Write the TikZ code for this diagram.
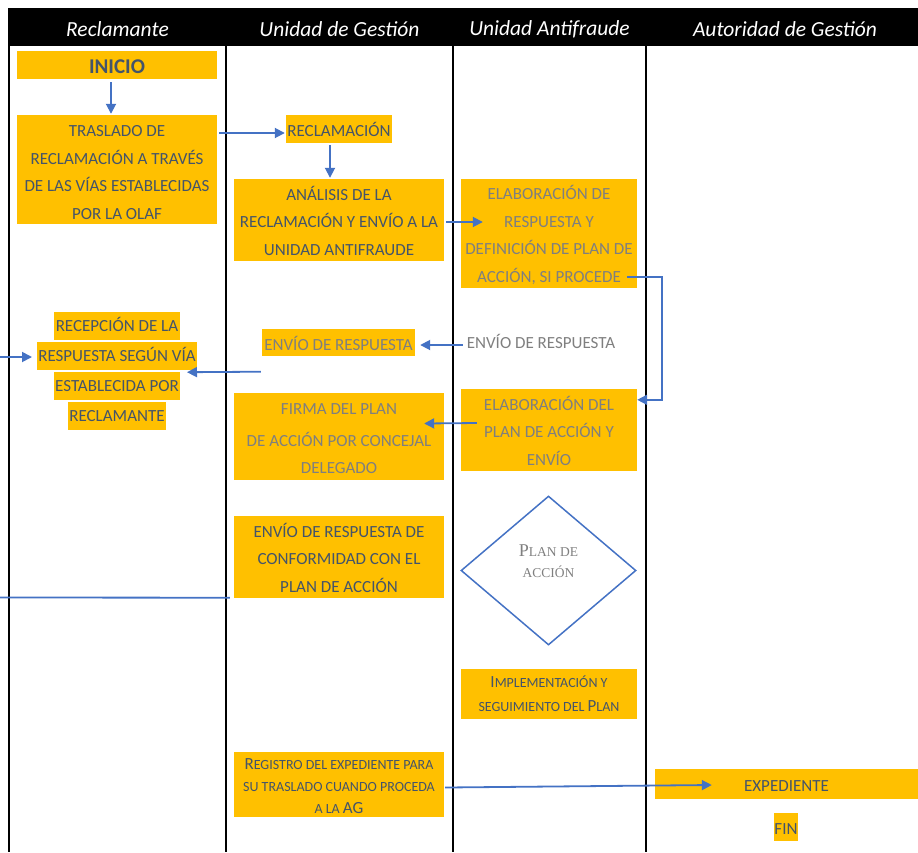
\documentclass[tikz,border=0pt]{standalone}
\usepackage{fontspec}
\setmainfont{Carlito}
\newfontfamily\serifrm{Liberation Serif}
\usetikzlibrary{calc,arrows.meta,shapes.geometric}
\definecolor{amber}{HTML}{FFC000}
\definecolor{flowblue}{HTML}{4472C4}
\definecolor{dk}{HTML}{44546A}
\definecolor{gr}{HTML}{7F7F7F}
\newcommand{\Bg}[1]{{\fontsize{17}{22}\selectfont #1}}
\newcommand{\Tp}{\rule{0pt}{17pt}}
\newcommand{\Bt}{\rule[-2pt]{0pt}{2pt}}
\begin{document}
\begin{tikzpicture}[x=1pt,y=-1pt,
  box/.style={fill=amber, inner sep=0pt, align=center, text=dk, font=\fontsize{17}{27.5}\selectfont},
  hl/.style={fill=amber, inner xsep=1.5pt, inner ysep=0pt, minimum height=28pt, text height=11pt, text depth=0pt, text=dk, font=\fontsize{17}{27.5}\selectfont},
  lanehead/.style={text=white, font=\fontsize{21.5}{24}\selectfont\itshape},
  arr/.style={draw=flowblue, line width=1.8pt, -{Triangle[length=10pt,width=10pt]}},
  conn/.style={draw=flowblue, line width=1.8pt},
  lane/.style={draw=black, line width=2pt}]
\useasboundingbox (0,0) rectangle (918,852);
% header
\fill[black] (8,8) rectangle (918,46);
\node[lanehead] (h1) at (117.5,29) {Reclamante};
\node[lanehead] (h2) at (339.5,29) {Unidad de Gestión};
\node[lanehead] (h3) at (549.5,29) {Unidad Antifraude};
\node[lanehead] (h4) at (785,29) {Autoridad de Gestión};
% lanes
\draw[lane] (9,46) -- (9,852);
\draw[lane] (226,46) -- (226,852);
\draw[lane] (453,46) -- (453,852);
\draw[lane] (646,46) -- (646,852);
% Reclamante
\node[box, minimum width=200pt, minimum height=28pt, font=\fontsize{21}{24}\selectfont\bfseries] (inicio) at (117,65) {\Tp INICIO};
\node[box, minimum width=200pt, minimum height=109pt] (tras) at (117,169.5) {\rule{0pt}{19pt}TRASLADO DE\\RECLAMACIÓN A TRAVÉS\\DE LAS VÍAS ESTABLECIDAS\\POR LA OLAF\Bt};
\node[hl] (rec1) at (117,326) {RECEPCIÓN DE LA};
\node[hl] (rec2) at (117,356) {RESPUESTA SEGÚN VÍA};
\node[hl] (rec3) at (117,386) {ESTABLECIDA POR};
\node[hl] (rec4) at (117,416) {RECLAMANTE};
% Unidad de Gestion
\node[box, minimum width=106pt, minimum height=28pt] (recl) at (339,129) {RECLAMACIÓN};
\node[box, minimum width=210pt, minimum height=82pt] (anal) at (339,220) {\Tp ANÁLISIS DE LA\\RECLAMACIÓN Y ENVÍO A LA\\UNIDAD ANTIFRAUDE\Bt};
\node[box, minimum width=153pt, minimum height=27pt, text=gr] (envug) at (338.5,342.5) {\Tp ENVÍO DE RESPUESTA};
\node[box, minimum width=210pt, minimum height=87pt, text=gr] (firma) at (339,436.5) {\Tp FIRMA DEL PLAN\\[4.5pt]DE ACCIÓN POR CONCEJAL\\DELEGADO\Bt};
\node[box, minimum width=210pt, minimum height=82pt] (conf) at (339,557) {\Tp ENVÍO DE RESPUESTA DE\\CONFORMIDAD CON EL\\PLAN DE ACCIÓN\Bt};
\node[box, minimum width=210pt, minimum height=65pt, font=\fontsize{14}{22}\selectfont] (reg) at (339,784.5) {\rule{0pt}{15pt}\Bg{R}EGISTRO DEL EXPEDIENTE PARA\\SU TRASLADO CUANDO PROCEDA\\A LA \Bg{AG}};
% Unidad Antifraude
\node[box, minimum width=176pt, minimum height=109pt, text=gr] (elab) at (549,233.5) {\Tp ELABORACIÓN DE\\RESPUESTA Y\\DEFINICIÓN DE PLAN DE\\ACCIÓN, SI PROCEDE\Bt};
\node[text=gr, font=\fontsize{17}{20}\selectfont, inner sep=0pt] (envtxt) at (541,341) {ENVÍO DE RESPUESTA};
\node[box, minimum width=176pt, minimum height=82pt, text=gr] (elabplan) at (549,430) {\Tp ELABORACIÓN DEL\\PLAN DE ACCIÓN Y\\ENVÍO\Bt};
\node[diamond, draw=flowblue, line width=1.5pt, minimum width=175pt, minimum height=149pt, inner sep=0pt] (diam) at (548.5,570.5) {};
\node[align=center, text=gr, inner sep=0pt, font=\serifrm\fontsize{13.5}{21}\selectfont] (diamtxt) at ($(diam.center)+(0,-9.5)$) {{\fontsize{18}{21}\selectfont P}LAN DE\\ACCIÓN};
\node[box, minimum width=176pt, minimum height=50pt, font=\fontsize{14}{24}\selectfont] (impl) at (549,694) {\Bg{I}MPLEMENTACIÓN Y\\SEGUIMIENTO DEL \Bg{P}LAN};
% Autoridad de Gestion
\node[box, minimum width=263pt, minimum height=30pt] (exped) at (786.5,784) {\rule{0pt}{14pt}EXPEDIENTE};
\node[box, minimum width=24pt, minimum height=28pt] (fin) at (786,827) {\rule{0pt}{14pt}FIN};
% free ends
\coordinate (lin) at (0,357);
\coordinate (lout) at (0,597.5);
% connectors
\draw[arr] ($(inicio.south)+(-6,3)$) -- ($(tras.north)+(-6,-1)$);
\draw[arr] ($(tras.east |- recl.west)+(2,4)$) -- ($(recl.west)+(-1,4)$);
\draw[arr] ($(recl.south)+(-9,2)$) -- ($(anal.north)+(-9,-1)$);
\draw[arr] ($(anal.east)+(2,2)$) -- ($(anal.east -| elab.west)+(22,2)$);
\draw[arr] ($(elab.south east)+(-10,-11)$) -- ++(35,0) |- ($(elabplan.north east)+(0,11)$);
\draw[arr] ($(envtxt.west)+(-4,4)$) -- ($(envug.east)+(5,2.5)$);
\draw[arr] ($(envug.south west)+(-1,15.5)$) -- ($(rec2.south)+(70,2)$);
\draw[arr] (lin) -- ($(rec2.center)+(-85,1)$);
\draw[arr] ($(elabplan.west)+(16,-7)$) -- ($(firma.east)+(-20,-13)$);
\draw[conn] ($(conf.south west)+(-4,-0.5)$) -- (lout);
\draw[arr] ($(reg.east)+(1,3)$) -- ($(exped.west)+(57,1)$);
\end{tikzpicture}
\end{document}
